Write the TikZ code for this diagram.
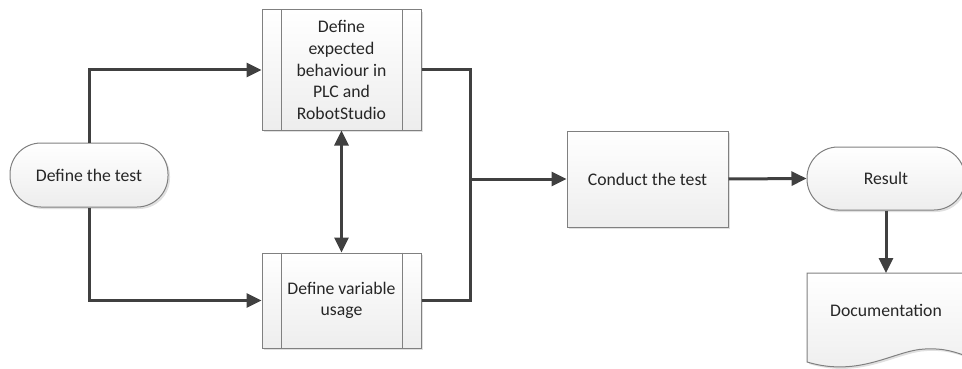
\documentclass[tikz,border=0pt]{standalone}
\usepackage{fontspec}
\setmainfont{Carlito}
\usetikzlibrary{arrows.meta,calc,shadows}
\begin{document}
\begin{tikzpicture}[x=1pt,y=-1pt,
  font=\fontsize{17.7}{21.7}\selectfont,
  shape base/.style={draw=black!50, line width=1pt, top color=white, bottom color=black!7,
    text=black!85, align=center, inner sep=0pt,
    drop shadow={shadow xshift=2pt,shadow yshift=-2pt,fill=black,opacity=0.12}},
  procbox/.style={shape base, rectangle},
  terminal/.style={shape base, rectangle, rounded corners=31pt},
  wire/.style={line width=3pt, draw=black!75},
  tip/.tip={Triangle[length=15pt,width=14pt]},
  conn/.style={wire, -tip},
  biconn/.style={wire, tip-tip},
  divider/.style={draw=black!50, line width=1pt}]
\useasboundingbox (0,0) rectangle (962,369);
\clip (0,0) rectangle (962,369);

% nodes
\node[terminal, minimum width=158pt, minimum height=64pt] (test) at (89,175) {Define the test};
\node[procbox, minimum width=159pt, minimum height=120pt] (expect) at (341.5,70)
  {Define\\expected\\behaviour in\\PLC and\\RobotStudio};
\node[procbox, minimum width=159pt, minimum height=95pt] (var) at (341.5,300.5)
  {Define variable\\usage};
\node[procbox, minimum width=161pt, minimum height=96pt] (conduct) at (647.5,179) {Conduct the test};
\node[terminal, minimum width=158pt, minimum height=63pt] (result) at (886,178.5) {Result};

% predefined-process side bars
\foreach \n in {expect,var}{
  \draw[divider] ($(\n.north west)+(20,0)$) -- ($(\n.south west)+(20,0)$);
  \draw[divider] ($(\n.north east)+(-19,0)$) -- ($(\n.south east)+(-19,0)$);
}

% document shape with wavy bottom edge
\path[shape base] (807,273) -- (972,273) -- (972,358)
  .. controls (955,352) and (945,348) .. (925,349)
  .. controls (895,350) and (860,378) .. (807,362) -- cycle;
\coordinate (doctop) at (886,273);
\node[text=black!85] (doc) at (886,310) {Documentation};

% connectors
\coordinate (join) at (470,179);
\draw[conn] (test.north) |- (expect.west);
\draw[conn] (test.south) |- (var.west);
\draw[biconn] (expect.south) -- (var.north);
\draw[wire] (expect.east) -| (join);
\draw[wire] (var.east) -| (join);
\draw[conn] (join) -- (conduct.west);
\draw[conn] (conduct.east) -- (result.west);
\draw[conn] (result.south) -- (doctop);
\end{tikzpicture}
\end{document}
